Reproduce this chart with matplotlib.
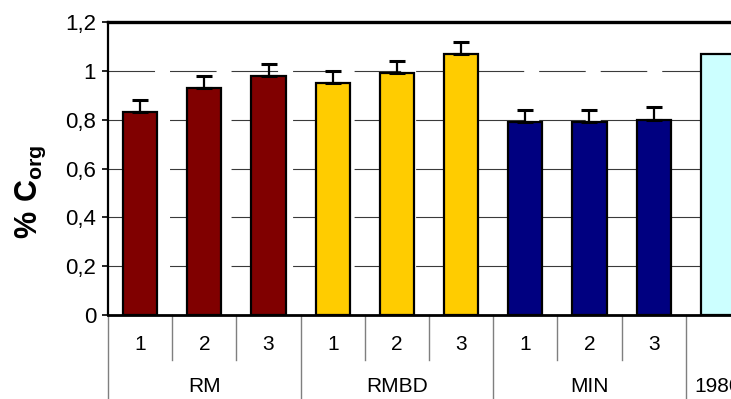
import matplotlib
matplotlib.use("Agg")
import matplotlib.pyplot as plt

# Data
groups = ["RM", "RMBD", "MIN", "1980"]
group_sizes = [3, 3, 3, 1]
sample_labels = ["1", "2", "3", "1", "2", "3", "1", "2", "3", ""]
c_org = [0.83, 0.93, 0.98, 0.95, 0.99, 1.07, 0.79, 0.79, 0.80, 1.07]
c_org_err = [0.05, 0.05, 0.05, 0.05, 0.05, 0.05, 0.05, 0.05, 0.05, 0.0]
group_colors = ["#800000", "#FFCC00", "#000080", "#CCFFFF"]
y_ticks = [0, 0.2, 0.4, 0.6, 0.8, 1.0, 1.2]
y_tick_labels = ["0", "0,2", "0,4", "0,6", "0,8", "1", "1,2"]

plt.rcParams["font.family"] = ["Liberation Sans", "DejaVu Sans"]
plt.rcParams["lines.scale_dashes"] = False
plt.rcParams["mathtext.fontset"] = "custom"
plt.rcParams["mathtext.bf"] = "Liberation Sans:bold"
plt.rcParams["mathtext.rm"] = "Liberation Sans"

W, H, DPI = 731, 399, 100
fig = plt.figure(figsize=(W / DPI, H / DPI), dpi=DPI)
left_px, right_px, top_px, zero_px = 108, 750, 22, 315
ax = fig.add_axes([left_px / W, 1 - zero_px / H,
                   (right_px - left_px) / W, (zero_px - top_px) / H])

n = len(c_org)
x = list(range(n))
colors = []
for col, size in zip(group_colors, group_sizes):
    colors += [col] * size

ax.bar(x, c_org, width=0.53, color=colors, edgecolor="black",
       linewidth=1.6, zorder=3)
lower = [0] * n
ax.errorbar(x[:-1], c_org[:-1], yerr=[lower[:-1], c_org_err[:-1]],
            fmt="none", ecolor="black", elinewidth=1.6, capsize=5.5,
            capthick=2.2, zorder=4)

ax.set_xlim(-0.5, n - 0.5)
ax.set_ylim(0, 1.2)
ax.set_yticks(y_ticks, labels=y_tick_labels, fontsize=16)
ax.tick_params(axis="y", direction="out", length=4.5, width=1.2, pad=4,
               color="black")

# dashed horizontal grid
for yv in y_ticks[1:-1]:
    ax.axhline(yv, color="#3a3a3a", linewidth=0.8,
               linestyle=(0, (33.5, 10.8)), zorder=1)

ax.spines["right"].set_visible(False)
ax.spines["top"].set_linewidth(2.4)
ax.spines["left"].set_linewidth(1.6)
ax.spines["bottom"].set_linewidth(2.0)

# category axis drawn as a two-level table
ax.set_xticks(x, labels=sample_labels, fontsize=15)
ax.tick_params(axis="x", length=0, pad=21)
for lbl in ax.get_xticklabels():
    lbl.set_verticalalignment("center")

trans = ax.get_xaxis_transform()
ax_h = zero_px - top_px
to_frac = lambda px: (zero_px - px) / ax_h

boundaries = [-0.5]
for size in group_sizes:
    boundaries.append(boundaries[-1] + size)
for xb in [i - 0.5 for i in range(1, n)]:
    if xb in boundaries:
        continue
    ax.plot([xb, xb], [0, to_frac(360)], transform=trans, color="#7f7f7f",
            linewidth=1.0, clip_on=False, zorder=0)
for xb in boundaries:
    ax.plot([xb, xb], [0, to_frac(402)], transform=trans, color="#7f7f7f",
            linewidth=1.0, clip_on=False, zorder=0)

start = -0.5
for name, size in zip(groups, group_sizes):
    ax.text(start + size / 2, to_frac(387), name, transform=trans,
            ha="center", va="center", fontsize=15, clip_on=False)
    start += size

ax.set_ylabel(r"$\mathbf{\%\ C_{org}}$", fontsize=22)
ax.yaxis.set_label_coords(-(left_px - 48) / (right_px - left_px),
                          to_frac(192))

fig.savefig("out.png", dpi=DPI)
